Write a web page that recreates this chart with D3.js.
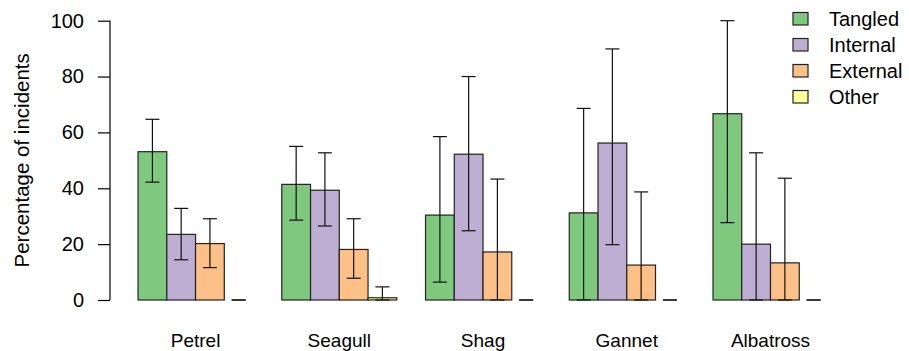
<!DOCTYPE html>
<html>
<head>
    <style>
        body { margin: 0; background: #fff; }
        svg text { font-family: "Liberation Sans", Arial, sans-serif; fill: #000; }
    </style>
</head>
<body>
    <div id="chart"></div>

    <script src="https://d3js.org/d3.v7.min.js"></script>
    <script>
        // Data (percentages)
        const birds = ["Petrel", "Seagull", "Shag", "Gannet", "Albatross"];
        const causes = ["Tangled", "Internal", "External", "Other"];
        const colours = ["#7FC97F", "#BEAED4", "#FDC086", "#FFFF99"];

        const tangled = [53.1, 41.4, 30.4, 31.2, 66.7];
        const internal = [23.5, 39.3, 52.2, 56.2, 20.0];
        const external = [20.2, 18.1, 17.2, 12.5, 13.3];
        const other = [0, 0.8, 0, 0, 0];

        const tangledLo = [42.2, 28.6, 6.4, 0, 27.7];
        const tangledHi = [64.7, 55.0, 58.5, 68.6, 100];
        const internalLo = [14.4, 26.5, 24.8, 19.8, 0];
        const internalHi = [32.8, 52.7, 80.0, 89.9, 52.7];
        const externalLo = [11.6, 7.8, 0, 0, 0];
        const externalHi = [29.1, 29.1, 43.3, 38.7, 43.6];
        const otherLo = [0, 0, 0, 0, 0];
        const otherHi = [0, 4.7, 0, 0, 0];

        const yTicks = [0, 20, 40, 60, 80, 100];

        const values = [tangled, internal, external, other];
        const lows = [tangledLo, internalLo, externalLo, otherLo];
        const highs = [tangledHi, internalHi, externalHi, otherHi];

        // bar slots like barplot(beside=TRUE): one empty slot before each group of four
        const rows = [];
        birds.forEach((b, i) => {
            causes.forEach((c, j) => {
                rows.push({ bird: b, cause: c, slot: i * 5 + 1 + j, v: values[j][i], lo: lows[j][i], hi: highs[j][i] });
            });
        });

        const width = 909, height = 351;

        const svg = d3.select("#chart").append("svg")
            .attr("width", width)
            .attr("height", height);

        const y = d3.scaleLinear().domain([0, 100]).range([300, 20.7]);
        const x = d3.scaleLinear().domain([0, 25]).range([109.3, 828]);
        const bw = x(1) - x(0);

        const colour = d3.scaleOrdinal().domain(causes).range(colours);

        // bars
        svg.append("g").selectAll("rect")
            .data(rows)
            .join("rect")
            .attr("x", d => x(d.slot))
            .attr("y", d => y(d.v))
            .attr("width", bw)
            .attr("height", d => y(0) - y(d.v))
            .attr("fill", d => colour(d.cause))
            .attr("stroke", "#222")
            .attr("stroke-width", 1.2);

        // error bars
        const err = svg.append("g").attr("stroke", "#111").attr("stroke-width", 1.2);
        const cx = d => x(d.slot + 0.5);
        err.selectAll("line.v")
            .data(rows)
            .join("line")
            .attr("class", "v")
            .attr("x1", cx).attr("x2", cx)
            .attr("y1", d => y(d.lo)).attr("y2", d => y(d.hi));
        err.selectAll("line.hi")
            .data(rows)
            .join("line")
            .attr("class", "hi")
            .attr("x1", d => cx(d) - 7).attr("x2", d => cx(d) + 7)
            .attr("y1", d => y(d.hi)).attr("y2", d => y(d.hi));
        err.selectAll("line.lo")
            .data(rows)
            .join("line")
            .attr("class", "lo")
            .attr("x1", d => cx(d) - 7).attr("x2", d => cx(d) + 7)
            .attr("y1", d => y(d.lo)).attr("y2", d => y(d.lo));

        // y axis
        const yAxis = svg.append("g")
            .attr("transform", "translate(110,0)")
            .call(d3.axisLeft(y).tickValues(yTicks).tickSize(12).tickPadding(14));
        yAxis.selectAll("path, line").attr("stroke", "#000").attr("stroke-width", 1.2);
        yAxis.select(".domain").attr("d", `M0,${y(0)}V${y(100)}`);
        yAxis.selectAll("text").attr("font-size", 20).attr("font-family", "Liberation Sans, Arial, sans-serif").attr("fill", "#000");

        svg.append("text")
            .attr("transform", `translate(29,${(y(0) + y(100)) / 2}) rotate(-90)`)
            .attr("text-anchor", "middle")
            .attr("font-size", 20.5)
            .text("Percentage of incidents");

        // category labels, centred under each group of four
        svg.append("g").selectAll("text")
            .data(birds)
            .join("text")
            .attr("x", (d, i) => x(i * 5 + 3))
            .attr("y", 347)
            .attr("text-anchor", "middle")
            .attr("font-size", 19)
            .text(d => d);

        // legend
        const legend = svg.append("g").selectAll("g")
            .data(causes)
            .join("g")
            .attr("transform", (d, i) => `translate(793,${12.5 + i * 26})`);
        legend.append("rect")
            .attr("width", 15).attr("height", 12.5)
            .attr("fill", d => colour(d))
            .attr("stroke", "#222").attr("stroke-width", 1.2);
        legend.append("text")
            .attr("x", 36).attr("y", 6.5)
            .attr("dy", "0.36em")
            .attr("font-size", 20)
            .text(d => d);
    </script>
</body>
</html>
